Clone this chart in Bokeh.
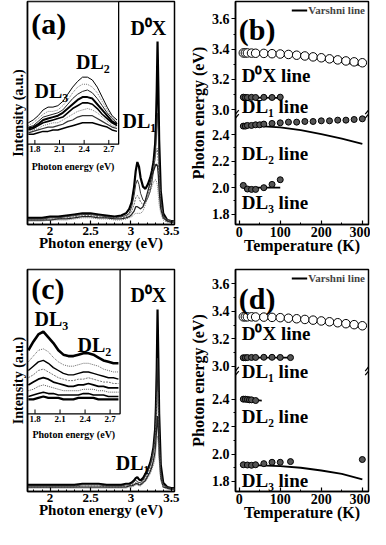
from bokeh.plotting import figure
from bokeh.layouts import column, row
from bokeh.models import (Range1d, FixedTicker, Label, Legend, LegendItem,
                          CustomJSTickFormatter)
from bokeh.core.properties import value
from bokeh.embed import file_html
from bokeh.resources import INLINE

FONT = "Liberation Serif"

# ---------------- data: PL spectra, main panels (a) and (c) ----------------
spec_energy = [1.72, 1.80, 1.90, 2.00, 2.10, 2.20, 2.30, 2.40, 2.50, 2.60, 2.70, 2.80, 2.88, 2.94, 2.98,
               3.01, 3.04, 3.06, 3.08, 3.10, 3.12, 3.15, 3.18, 3.21, 3.24, 3.26, 3.28, 3.30, 3.31,
               3.32, 3.33, 3.34, 3.35, 3.37, 3.40, 3.45, 3.50, 3.54]

a_spec_1 = [0.03, 0.03, 0.03, 0.035, 0.035, 0.04, 0.045, 0.05, 0.05, 0.045, 0.04, 0.035, 0.04, 0.05, 0.07,
            0.10, 0.17, 0.24, 0.28, 0.26, 0.21, 0.17, 0.16, 0.18, 0.21, 0.24, 0.28, 0.36, 0.45,
            0.60, 0.82, 0.62, 0.38, 0.15, 0.05, 0.02, 0.015, 0.015]
a_spec_2 = [0.025, 0.025, 0.025, 0.03, 0.03, 0.035, 0.04, 0.045, 0.045, 0.04, 0.035, 0.03, 0.035, 0.04, 0.05,
            0.08, 0.13, 0.18, 0.20, 0.18, 0.14, 0.11, 0.10, 0.12, 0.15, 0.19, 0.24, 0.30, 0.36,
            0.44, 0.50, 0.40, 0.26, 0.11, 0.04, 0.02, 0.015, 0.015]
a_spec_3 = [0.02, 0.02, 0.02, 0.025, 0.025, 0.03, 0.035, 0.04, 0.04, 0.035, 0.03, 0.03, 0.03, 0.035, 0.045,
            0.06, 0.09, 0.12, 0.13, 0.12, 0.10, 0.09, 0.10, 0.13, 0.17, 0.21, 0.25, 0.30, 0.32,
            0.34, 0.34, 0.28, 0.20, 0.09, 0.035, 0.02, 0.015, 0.015]
a_spec_4 = [0.02, 0.02, 0.02, 0.02, 0.025, 0.025, 0.03, 0.035, 0.035, 0.03, 0.03, 0.025, 0.025, 0.03, 0.035,
            0.045, 0.06, 0.08, 0.08, 0.075, 0.07, 0.08, 0.11, 0.15, 0.19, 0.22, 0.24, 0.26, 0.27,
            0.27, 0.26, 0.22, 0.15, 0.07, 0.03, 0.015, 0.01, 0.01]
a_spec_5 = [0.015, 0.015, 0.015, 0.02, 0.02, 0.02, 0.025, 0.03, 0.03, 0.025, 0.025, 0.02, 0.02, 0.025, 0.03,
            0.035, 0.045, 0.05, 0.05, 0.05, 0.05, 0.06, 0.09, 0.12, 0.15, 0.17, 0.19, 0.20, 0.20,
            0.19, 0.17, 0.13, 0.09, 0.05, 0.02, 0.01, 0.01, 0.01]

c_spec_1 = [0.03, 0.03, 0.03, 0.03, 0.03, 0.03, 0.03, 0.035, 0.035, 0.035, 0.03, 0.03, 0.03, 0.035, 0.035,
            0.04, 0.05, 0.06, 0.065, 0.055, 0.05, 0.06, 0.08, 0.10, 0.13, 0.16, 0.20, 0.28, 0.38,
            0.55, 0.82, 0.60, 0.35, 0.12, 0.04, 0.02, 0.015, 0.015]
c_spec_2 = [0.025, 0.025, 0.025, 0.025, 0.025, 0.025, 0.025, 0.03, 0.03, 0.03, 0.025, 0.025, 0.025, 0.03, 0.03,
            0.035, 0.045, 0.05, 0.045, 0.04, 0.04, 0.05, 0.07, 0.09, 0.12, 0.15, 0.19, 0.26, 0.33,
            0.45, 0.60, 0.45, 0.27, 0.09, 0.03, 0.02, 0.015, 0.015]
c_spec_3 = [0.02, 0.02, 0.02, 0.02, 0.02, 0.02, 0.02, 0.025, 0.025, 0.025, 0.02, 0.02, 0.02, 0.025, 0.025,
            0.03, 0.035, 0.04, 0.04, 0.035, 0.035, 0.045, 0.06, 0.08, 0.10, 0.13, 0.17, 0.22, 0.28,
            0.36, 0.45, 0.34, 0.21, 0.07, 0.025, 0.015, 0.01, 0.01]
c_spec_4 = [0.02, 0.02, 0.02, 0.02, 0.02, 0.02, 0.02, 0.02, 0.02, 0.02, 0.02, 0.02, 0.02, 0.02, 0.025,
            0.025, 0.03, 0.035, 0.035, 0.03, 0.03, 0.04, 0.05, 0.07, 0.09, 0.11, 0.14, 0.18, 0.23,
            0.29, 0.34, 0.27, 0.17, 0.06, 0.02, 0.015, 0.01, 0.01]
c_spec_5 = [0.015, 0.015, 0.015, 0.015, 0.015, 0.015, 0.015, 0.015, 0.015, 0.015, 0.015, 0.015, 0.015, 0.015,
            0.02, 0.02, 0.025, 0.03, 0.03, 0.025, 0.025, 0.035, 0.045, 0.06, 0.08, 0.10, 0.12, 0.15,
            0.19, 0.23, 0.25, 0.21, 0.14, 0.05, 0.02, 0.01, 0.01, 0.01]

main_ticks = [2.0, 2.5, 3.0, 3.5]

# ---------------- data: insets (fraction of inset height) ----------------
inset_energy = [1.72, 1.78, 1.84, 1.90, 1.96, 2.02, 2.08, 2.14, 2.20, 2.26, 2.32, 2.38, 2.44, 2.50,
                2.56, 2.62, 2.68, 2.74, 2.80]
inset_ticks = [1.8, 2.1, 2.4, 2.7]

a_inset_1 = [0.15, 0.17, 0.20, 0.24, 0.26, 0.26, 0.27, 0.30, 0.35, 0.40, 0.44, 0.47, 0.47, 0.45, 0.40, 0.33, 0.26, 0.20, 0.17]
a_inset_2 = [0.13, 0.15, 0.18, 0.21, 0.23, 0.23, 0.24, 0.27, 0.31, 0.36, 0.40, 0.42, 0.42, 0.40, 0.36, 0.30, 0.24, 0.19, 0.16]
a_inset_3 = [0.12, 0.13, 0.16, 0.19, 0.20, 0.21, 0.22, 0.24, 0.28, 0.32, 0.35, 0.37, 0.38, 0.36, 0.32, 0.27, 0.22, 0.18, 0.15]
a_inset_4 = [0.11, 0.12, 0.14, 0.17, 0.18, 0.19, 0.20, 0.22, 0.25, 0.28, 0.31, 0.33, 0.33, 0.32, 0.28, 0.24, 0.20, 0.16, 0.14]
a_inset_5 = [0.10, 0.11, 0.13, 0.15, 0.16, 0.17, 0.18, 0.19, 0.22, 0.25, 0.27, 0.29, 0.29, 0.28, 0.25, 0.21, 0.18, 0.15, 0.13]
a_inset_6 = [0.09, 0.10, 0.11, 0.13, 0.14, 0.15, 0.15, 0.17, 0.19, 0.21, 0.23, 0.24, 0.25, 0.24, 0.22, 0.19, 0.16, 0.13, 0.12]
a_inset_7 = [0.08, 0.09, 0.10, 0.11, 0.12, 0.12, 0.13, 0.14, 0.16, 0.17, 0.19, 0.20, 0.20, 0.20, 0.18, 0.16, 0.14, 0.12, 0.11]
a_inset_8 = [0.07, 0.07, 0.08, 0.09, 0.09, 0.10, 0.10, 0.11, 0.12, 0.13, 0.14, 0.15, 0.15, 0.15, 0.14, 0.13, 0.12, 0.10, 0.09]

c_inset_1 = [0.44, 0.50, 0.55, 0.57, 0.53, 0.49, 0.44, 0.41, 0.40, 0.40, 0.41, 0.42, 0.42, 0.41, 0.39, 0.37, 0.36, 0.35, 0.35]
c_inset_2 = [0.36, 0.40, 0.44, 0.45, 0.43, 0.39, 0.36, 0.34, 0.33, 0.33, 0.34, 0.35, 0.35, 0.34, 0.33, 0.31, 0.30, 0.29, 0.29]
c_inset_3 = [0.30, 0.33, 0.36, 0.37, 0.35, 0.32, 0.30, 0.28, 0.27, 0.27, 0.28, 0.29, 0.29, 0.28, 0.27, 0.26, 0.25, 0.25, 0.24]
c_inset_4 = [0.25, 0.27, 0.30, 0.31, 0.29, 0.27, 0.25, 0.24, 0.23, 0.23, 0.24, 0.24, 0.25, 0.24, 0.23, 0.22, 0.22, 0.21, 0.21]
c_inset_5 = [0.20, 0.22, 0.24, 0.25, 0.24, 0.22, 0.21, 0.20, 0.19, 0.19, 0.20, 0.20, 0.21, 0.20, 0.19, 0.19, 0.18, 0.18, 0.18]
c_inset_6 = [0.16, 0.17, 0.19, 0.20, 0.19, 0.18, 0.17, 0.16, 0.16, 0.16, 0.16, 0.17, 0.17, 0.17, 0.16, 0.16, 0.15, 0.15, 0.15]
c_inset_7 = [0.12, 0.13, 0.14, 0.15, 0.14, 0.14, 0.13, 0.13, 0.13, 0.13, 0.13, 0.14, 0.14, 0.13, 0.13, 0.13, 0.12, 0.12, 0.12]
c_inset_8 = [0.10, 0.10, 0.11, 0.12, 0.11, 0.11, 0.11, 0.10, 0.10, 0.10, 0.11, 0.11, 0.11, 0.11, 0.10, 0.10, 0.10, 0.10, 0.10]

# ---------------- data: peak energies vs temperature, panels (b) and (d) ----------------
temp_ticks = [0, 100, 200, 300]
lower_ticks = [1.8, 2.0, 2.2, 2.4]
upper_ticks = [3.0, 3.2, 3.4, 3.6]

b_dx_T = [10, 15, 20, 30, 40, 60, 80, 100, 120, 140, 160, 180, 200, 220, 240, 260, 280, 300]
b_dx_E = [3.375, 3.375, 3.375, 3.374, 3.373, 3.372, 3.370, 3.368, 3.365, 3.360, 3.355, 3.349,
          3.343, 3.336, 3.329, 3.322, 3.316, 3.310]
b_dx_fitT = [10, 50, 100, 150, 200, 250, 300]
b_dx_fitE = [3.374, 3.372, 3.365, 3.352, 3.335, 3.315, 3.293]
b_dl1_T = [10, 15, 20, 30, 40, 60, 80, 100]
b_dl1_E = [3.082, 3.080, 3.080, 3.081, 3.080, 3.081, 3.080, 3.082]
b_dl1_fitT = [10, 100]
b_dl1_fitE = [3.080, 3.078]
b_dl2_T = [10, 15, 20, 30, 40, 50, 60, 80, 100, 120, 140, 160, 180, 200, 220, 240, 260, 280, 300]
b_dl2_E = [2.465, 2.465, 2.47, 2.47, 2.475, 2.475, 2.48, 2.485, 2.49, 2.495, 2.495, 2.50, 2.50,
           2.505, 2.505, 2.51, 2.51, 2.515, 2.52]
b_dl2_fitT = [10, 50, 100, 150, 200, 250, 300]
b_dl2_fitE = [2.465, 2.465, 2.455, 2.435, 2.405, 2.37, 2.33]
b_dl3_T = [10, 20, 30, 40, 60, 80, 100]
b_dl3_E = [2.017, 1.99, 1.987, 1.987, 2.0, 2.025, 2.06]
b_dl3_fitT = [10, 100]
b_dl3_fitE = [2.0, 2.0]

d_dx_T = [10, 15, 20, 30, 40, 60, 80, 100, 120, 140, 160, 180, 200, 220, 240, 260, 280, 300]
d_dx_E = [3.360, 3.360, 3.360, 3.360, 3.359, 3.358, 3.356, 3.354, 3.350, 3.346, 3.341, 3.336,
          3.330, 3.324, 3.317, 3.310, 3.303, 3.295]
d_dx_fitT = [10, 50, 100, 150, 200, 250, 300]
d_dx_fitE = [3.360, 3.358, 3.352, 3.340, 3.324, 3.305, 3.282]
d_dl1_T = [10, 15, 20, 30, 40, 60, 80, 100, 125]
d_dl1_E = [3.062, 3.062, 3.063, 3.064, 3.064, 3.065, 3.065, 3.064, 3.063]
d_dl1_fitT = [10, 125]
d_dl1_fitE = [3.062, 3.062]
d_dl2_T = [10, 15, 20, 25, 30, 40]
d_dl2_E = [2.40, 2.40, 2.398, 2.395, 2.395, 2.39]
d_dl2_fitT = [10, 55]
d_dl2_fitE = [2.40, 2.39]
d_dl3_T = [10, 20, 30, 40, 60, 80, 100, 125, 300]
d_dl3_E = [1.922, 1.92, 1.918, 1.922, 1.93, 1.94, 1.94, 1.945, 1.96]
d_dl3_fitT = [10, 50, 100, 150, 200, 250, 300]
d_dl3_fitE = [1.92, 1.918, 1.912, 1.90, 1.88, 1.855, 1.815]


# ---------------- helpers ----------------
def style(p, tick_size, label_size):
    for ax in p.axis:
        ax.axis_line_width = 1.5
        ax.axis_line_color = "black"
        ax.major_tick_line_color = "black"
        ax.minor_tick_line_color = "black"
        ax.major_tick_line_width = 1.2
        ax.minor_tick_line_width = 1
        ax.major_label_text_font = FONT
        ax.major_label_text_font_style = "bold"
        ax.major_label_text_font_size = tick_size
        ax.major_label_text_color = "black"
        ax.axis_label_text_font = FONT
        ax.axis_label_text_font_style = "bold"
        ax.axis_label_text_font_size = label_size
        ax.axis_label_text_color = "black"
    p.xaxis.major_label_standoff = 2
    p.xaxis.axis_label_standoff = -3
    p.xgrid.visible = False
    p.ygrid.visible = False
    p.outline_line_color = "black"
    p.outline_line_width = 1.5
    p.background_fill_color = "white"
    p.border_fill_color = "white"


def frac_label(p, fx, fy, text, size, baseline="middle", align="left"):
    xr, yr = p.x_range, p.y_range
    p.add_layout(Label(x=xr.start + fx * (xr.end - xr.start),
                       y=yr.start + fy * (yr.end - yr.start),
                       text=text, text_font=FONT, text_font_style="bold",
                       text_font_size=size, text_baseline=baseline,
                       text_align=align, text_color="black"))


def spectra_panel(h, top, bottom, curves, styles, inset, inset_styles,
                  fx_in, fy_in, labels, lab_y, title):
    p = figure(width=186, height=h, x_range=Range1d(1.72, 3.54), y_range=Range1d(0, 1),
               output_backend="svg", toolbar_location=None,
               min_border_left=27, min_border_right=12,
               min_border_top=top, min_border_bottom=bottom)
    style(p, "13px", "15px")
    p.xaxis.ticker = FixedTicker(ticks=main_ticks,
                                 minor_ticks=[1.8, 1.9, 2.1, 2.2, 2.3, 2.4, 2.6, 2.7, 2.8, 2.9,
                                              3.1, 3.2, 3.3, 3.4])
    p.xaxis.major_tick_in = 4
    p.xaxis.major_tick_out = 0
    p.xaxis.minor_tick_in = 2
    p.xaxis.minor_tick_out = 0
    p.xaxis.axis_label = "Photon energy (eV)"
    p.yaxis.ticker = FixedTicker(ticks=[])
    p.yaxis.axis_label = "Intensity (a.u.)"
    p.yaxis.axis_label_text_font_size = "14px"
    p.yaxis.axis_label_standoff = 2

    for ys, (col, w, dash) in zip(curves, styles):
        p.line(spec_energy, ys, line_color=col, line_width=w, line_dash=dash)

    # inset, drawn on its own ranges inside the main frame
    ix0, ix1 = 1.71, 2.82
    p.extra_x_ranges = {"ix": Range1d(ix0, ix0 + (ix1 - ix0) / fx_in)}
    p.extra_y_ranges = {"iy": Range1d(-fy_in / (1 - fy_in), 1)}
    kw = dict(x_range_name="ix", y_range_name="iy")
    p.quad(left=[ix0], right=[ix1], bottom=[0], top=[1], fill_color="white",
           line_color="black", line_width=1.3, **kw)
    for ys, (col, w, dash) in zip(inset, inset_styles):
        p.line(inset_energy, ys, line_color=col, line_width=w, line_dash=dash, **kw)
    n = len(inset_ticks)
    p.segment(x0=inset_ticks, y0=[0] * n, x1=inset_ticks, y1=[0.03] * n,
              line_color="black", line_width=1, **kw)
    p.text(x=inset_ticks, y=[-0.012] * n, text=[f"{t:.1f}" for t in inset_ticks],
           text_font=value(FONT), text_font_style="bold", text_font_size="9px",
           text_align="center", text_baseline="top", text_color="black", **kw)
    p.text(x=[(ix0 + ix1) / 2], y=[lab_y], text=["Photon energy (eV)"],
           text_font=value(FONT), text_font_style="bold", text_font_size="10px",
           text_align="center", text_baseline="middle", text_color="black", **kw)

    frac_label(p, 0.025, title[0], title[1], "30px")
    for fx, fy, t in labels:
        frac_label(p, fx, fy, t, "20px")
    return p


def temp_panel(h, top, bottom, ylo, yhi, b0, k, series, labels, title):
    def m(v):
        return v if v < 2.8 else b0 + (v - 3.0) * k

    p = figure(width=184, height=h, x_range=Range1d(-9, 315), y_range=Range1d(ylo, yhi),
               output_backend="svg", toolbar_location=None,
               min_border_left=42, min_border_right=2,
               min_border_top=top, min_border_bottom=bottom)
    style(p, "14px", "16px")
    p.xaxis.ticker = FixedTicker(ticks=temp_ticks, minor_ticks=[50, 150, 250])
    p.xaxis.major_tick_in = 4
    p.xaxis.major_tick_out = 0
    p.xaxis.minor_tick_in = 2
    p.xaxis.minor_tick_out = 0
    p.xaxis.axis_label = "Temperature (K)"
    yt = lower_ticks + [m(v) for v in upper_ticks]
    ymin = [1.9, 2.1, 2.3] + [m(v) for v in (3.1, 3.3, 3.5)]
    p.yaxis.ticker = FixedTicker(ticks=yt, minor_ticks=ymin)
    p.yaxis.formatter = CustomJSTickFormatter(
        args=dict(b0=b0, k=k),
        code="return (tick > 2.5 ? 3.0 + (tick - b0) / k : tick).toFixed(1);")
    p.yaxis.major_tick_in = 0
    p.yaxis.major_tick_out = 4
    p.yaxis.minor_tick_in = 0
    p.yaxis.minor_tick_out = 2
    p.yaxis.major_label_standoff = 2
    p.yaxis.axis_label_standoff = 2
    p.yaxis.axis_label = "Photon energy (eV)"

    first_fit = None
    for T, E, fT, fE, kind in series:
        r = p.line(fT, [m(v) for v in fE], line_color="black", line_width=1.8)
        if first_fit is None:
            first_fit = r
        if kind == "open":
            p.scatter(T, [m(v) for v in E], size=8.5, fill_color="white",
                      line_color="black", line_width=1)
        else:
            p.scatter(T, [m(v) for v in E], size=6, fill_color="#555555",
                      line_color="black", line_width=1)

    # axis-break marks (two short slanted strokes at each vertical edge)
    xs, xe = p.x_range.start, p.x_range.end
    yb = b0 - 0.035
    p.segment(x0=[xs, xs, xe - 8, xe - 8], y0=[yb - 0.03, yb, yb - 0.03, yb],
              x1=[xs + 8, xs + 8, xe, xe], y1=[yb + 0.0, yb + 0.03, yb + 0.0, yb + 0.03],
              line_color="black", line_width=1.2)

    leg = Legend(items=[LegendItem(label="Varshni line", renderers=[first_fit])],
                 location="top_right", label_text_font=FONT, label_text_font_style="bold",
                 label_text_font_size="11px", glyph_width=16, glyph_height=8,
                 label_standoff=1, padding=1, margin=2, spacing=0, label_height=8,
                 border_line_alpha=0, background_fill_alpha=0)
    p.add_layout(leg)

    frac_label(p, 0.025, title[0], title[1], "30px")
    for fx, fy, t in labels:
        frac_label(p, fx, fy, t, "19px")
    return p


main_styles = [("black", 2.2, "solid"), ("#333333", 1.0, "solid"), ("#666666", 1.0, "2 1"),
               ("#222222", 1.3, "solid"), ("#777777", 1.0, "1 1")]
inset_styles_a = [("black", 1.0, "solid"), ("#777777", 1.0, "1 1"), ("#222222", 1.0, "solid"),
                  ("black", 2.0, "solid"), ("black", 1.6, "solid"), ("#777777", 1.0, "1 1"),
                  ("#333333", 1.2, "solid"), ("black", 1.5, "solid")]
inset_styles_c = [("black", 2.6, "solid"), ("#666666", 1.0, "1 1"), ("black", 1.4, "solid"),
                  ("#777777", 1.0, "2 1"), ("black", 1.8, "solid"), ("#555555", 1.0, "1 1"),
                  ("black", 1.6, "solid"), ("black", 2.2, "solid")]

pa = spectra_panel(262, 1, 38,
                   [a_spec_1, a_spec_2, a_spec_3, a_spec_4, a_spec_5], main_styles,
                   [a_inset_1, a_inset_2, a_inset_3, a_inset_4, a_inset_5, a_inset_6, a_inset_7, a_inset_8],
                   inset_styles_a, 0.62, 0.36,
                   [(0.048, 0.60, "DL₃"), (0.33, 0.73, "DL₂"), (0.70, 0.88, "D⁰X"), (0.646, 0.464, "DL₁")],
                   -0.155, (0.90, "(a)"))

pc = spectra_panel(267, 7, 38,
                   [c_spec_1, c_spec_2, c_spec_3, c_spec_4, c_spec_5], main_styles,
                   [c_inset_1, c_inset_2, c_inset_3, c_inset_4, c_inset_5, c_inset_6, c_inset_7, c_inset_8],
                   inset_styles_c, 0.63, 0.35,
                   [(0.048, 0.775, "DL₃"), (0.34, 0.66, "DL₂"), (0.70, 0.887, "D⁰X"), (0.60, 0.13, "DL₁")],
                   -0.146, (0.914, "(c)"))

pb = temp_panel(262, 1, 38, 1.722, 3.406, 2.59, 1.14,
                [(b_dx_T, b_dx_E, b_dx_fitT, b_dx_fitE, "open"),
                 (b_dl1_T, b_dl1_E, b_dl1_fitT, b_dl1_fitE, "filled"),
                 (b_dl2_T, b_dl2_E, b_dl2_fitT, b_dl2_fitE, "filled"),
                 (b_dl3_T, b_dl3_E, b_dl3_fitT, b_dl3_fitE, "filled")],
                [(0.047, 0.67, "D⁰X line"), (0.047, 0.528, "DL₁ line"),
                 (0.047, 0.32, "DL₂ line"), (0.047, 0.098, "DL₃ line")],
                (0.875, "(b)"))

pd_ = temp_panel(267, 7, 38, 1.727, 3.345, 2.64, 1.0,
                 [(d_dx_T, d_dx_E, d_dx_fitT, d_dx_fitE, "open"),
                  (d_dl1_T, d_dl1_E, d_dl1_fitT, d_dl1_fitE, "filled"),
                  (d_dl2_T, d_dl2_E, d_dl2_fitT, d_dl2_fitE, "filled"),
                  (d_dl3_T, d_dl3_E, d_dl3_fitT, d_dl3_fitE, "filled")],
                 [(0.047, 0.71, "D⁰X line"), (0.047, 0.54, "DL₁ line"),
                  (0.047, 0.336, "DL₂ line"), (0.047, 0.05, "DL₃ line")],
                 (0.87, "(d)"))

layout = column(row(pa, pb), row(pc, pd_))
open("out.html", "w").write(file_html(layout, INLINE))
